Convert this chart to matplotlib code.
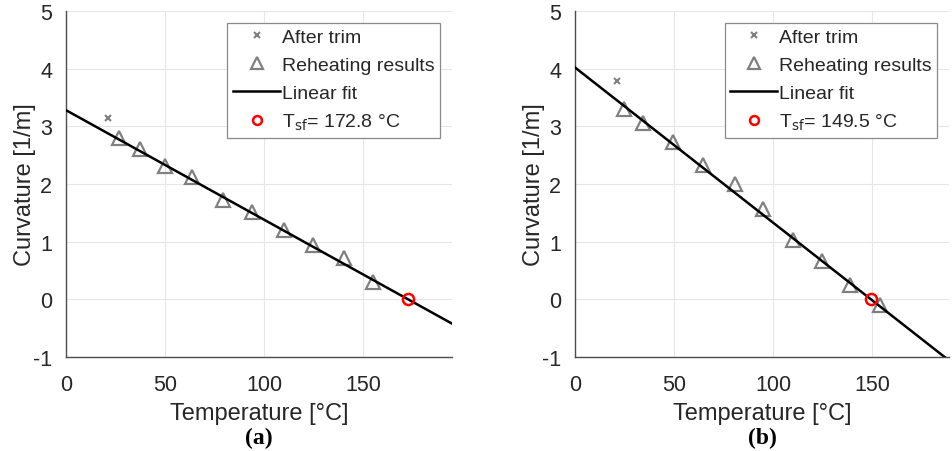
import matplotlib
matplotlib.use("Agg")
import matplotlib.pyplot as plt
import numpy as np

plt.rcParams['font.family'] = ['Liberation Sans', 'DejaVu Sans']
plt.rcParams['axes.unicode_minus'] = False

# Panel (a)
trim_a_x = [21.2]
trim_a_y = [3.15]
reheat_a_x = [26.9, 37.4, 50.2, 63.5, 79.5, 94.1, 110.1, 124.9, 140.6, 155.2]
reheat_a_y = [2.80, 2.61, 2.31, 2.12, 1.72, 1.52, 1.20, 0.95, 0.71, 0.30]
fit_a_intercept = 3.28
tsf_a = 172.8
xmax_a = 195

# Panel (b)
trim_b_x = [21.0]
trim_b_y = [3.78]
reheat_b_x = [24.9, 34.5, 49.7, 64.5, 80.8, 94.8, 110.3, 124.6, 138.9, 154.0]
reheat_b_y = [3.30, 3.06, 2.72, 2.33, 2.00, 1.57, 1.03, 0.66, 0.25, -0.09]
fit_b_intercept = 4.02
tsf_b = 149.5
xmax_b = 189

panels = [
    ("(a)", trim_a_x, trim_a_y, reheat_a_x, reheat_a_y, fit_a_intercept, tsf_a, xmax_a, [0.0693, 0.208, 0.4055, 0.7655]),
    ("(b)", trim_b_x, trim_b_y, reheat_b_x, reheat_b_y, fit_b_intercept, tsf_b, xmax_b, [0.604, 0.208, 0.393, 0.7655]),
]

W, H = 952, 452
text_col = '#262626'
fig = plt.figure(figsize=(W / 100, H / 100), dpi=100)
for label, tx, ty, rx, ry, b0, tsf, xmax, rect in panels:
    ax = fig.add_axes(rect)
    slope = -b0 / tsf
    xf = np.array([0, xmax])
    ax.plot(tx, ty, 'x', color='#808080', ms=5, mew=1.5, label='After trim')
    ax.plot(rx, ry, '^', mfc='none', mec='#808080', ms=10, mew=1.6, label='Reheating results', zorder=3)
    ax.plot(xf, b0 + slope * xf, '-', color='black', lw=1.8, label='Linear fit', zorder=4)
    ax.plot([tsf], [0], 'o', mfc='none', mec='red', ms=8, mew=1.8,
            label=r'T$_{\rm sf}$= %.1f °C' % tsf, zorder=5)
    ax.set_xlim(0, xmax)
    ax.set_ylim(-1, 5)
    ax.set_xticks([0, 50, 100, 150])
    ax.set_yticks(range(-1, 6))
    ax.grid(True, color='#e6e6e6', lw=0.8)
    ax.set_axisbelow(True)
    for s in ['top', 'right']:
        ax.spines[s].set_visible(False)
    for s in ['left', 'bottom']:
        ax.spines[s].set_color('#4d4d4d')
        ax.spines[s].set_linewidth(1.0)
    ax.tick_params(labelsize=15.5, colors=text_col, length=0)
    ax.tick_params(axis='x', pad=12)
    ax.tick_params(axis='y', pad=10)
    ax.set_xlabel('Temperature [°C]', fontsize=17, color=text_col, labelpad=5)
    ax.set_ylabel('Curvature [1/m]', fontsize=17, color=text_col)
    wpx = rect[2] * W
    ax.yaxis.set_label_coords(-30 / wpx, 0.5)
    leg = ax.legend(loc='upper right', fontsize=14, frameon=True, fancybox=False,
                    edgecolor='#8a8a8a', framealpha=1, borderpad=0.3, labelspacing=0.52,
                    handlelength=2.4, handletextpad=0.1, borderaxespad=0.6, markerscale=0.8)
    leg.get_frame().set_linewidth(0.9)
    for t in leg.get_texts():
        t.set_color(text_col)
    ax.text(0.5, -0.232, label, transform=ax.transAxes, ha='center', va='center',
            fontsize=17, fontweight='bold', family='Liberation Serif', color='black')

fig.savefig('out.png', dpi=100)
